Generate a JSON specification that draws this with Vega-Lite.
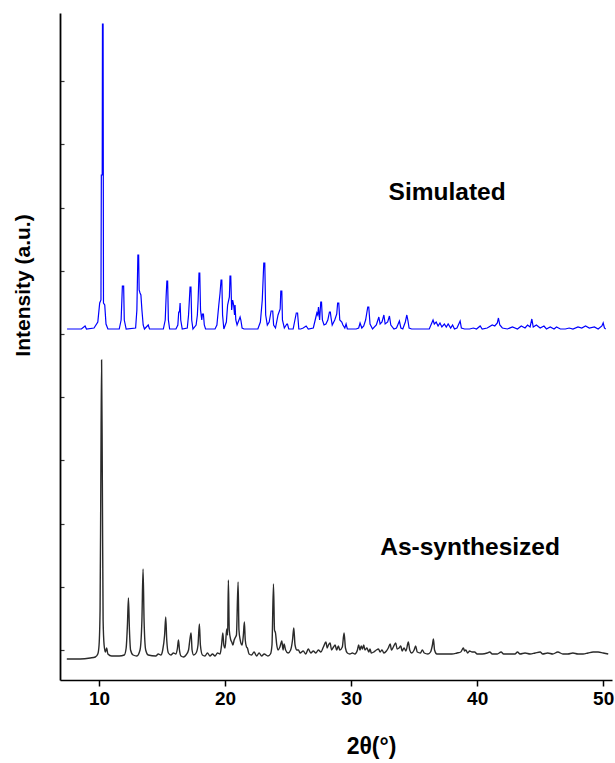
{
  "$schema": "https://vega.github.io/schema/vega-lite/v6.json",
  "autosize": {"type": "none"},
  "padding": {"left": 60, "top": 13, "right": 3, "bottom": 83},
  "width": 552,
  "height": 667,
  "background": "white",
  "config": {"view": {"stroke": null}, "font": "Liberation Sans"},
  "datasets": {
    "sim": [
      {"t":7.46,"i":351},{"t":8.6,"i":351},{"t":8.89,"i":354},{"t":9.0,"i":351},{"t":9.6,"i":352},{"t":9.9,"i":358},{"t":10.05,"i":377},{"t":10.15,"i":380},{"t":10.18,"i":505},{"t":10.25,"i":505},{"t":10.27,"i":656},{"t":10.32,"i":656},{"t":10.35,"i":377},{"t":10.45,"i":375},{"t":10.55,"i":356},{"t":10.7,"i":351},
      {"t":11.6,"i":351},{"t":11.75,"i":360},{"t":11.85,"i":394},{"t":11.95,"i":394},{"t":12.0,"i":360},{"t":12.15,"i":351},{"t":12.9,"i":352},{"t":13.0,"i":370},{"t":13.08,"i":425},{"t":13.14,"i":425},{"t":13.18,"i":390},{"t":13.25,"i":387},{"t":13.32,"i":385},{"t":13.4,"i":370},{"t":13.5,"i":355},{"t":13.6,"i":351},{"t":13.9,"i":355},{"t":14.0,"i":351},
      {"t":15.1,"i":351},{"t":15.25,"i":360},{"t":15.32,"i":383},{"t":15.38,"i":399},{"t":15.44,"i":399},{"t":15.5,"i":360},{"t":15.6,"i":351},{"t":16.1,"i":351},{"t":16.25,"i":355},{"t":16.32,"i":368},{"t":16.38,"i":368},{"t":16.43,"i":377},{"t":16.48,"i":360},{"t":16.6,"i":351},
      {"t":17.0,"i":352},{"t":17.1,"i":365},{"t":17.17,"i":381},{"t":17.22,"i":393},{"t":17.29,"i":393},{"t":17.35,"i":360},{"t":17.45,"i":351},{"t":17.7,"i":355},{"t":17.8,"i":365},{"t":17.86,"i":380},{"t":17.93,"i":407},{"t":17.99,"i":407},{"t":18.05,"i":370},{"t":18.15,"i":360},{"t":18.2,"i":366},{"t":18.28,"i":366},{"t":18.35,"i":355},{"t":18.45,"i":351},
      {"t":19.2,"i":351},{"t":19.35,"i":355},{"t":19.5,"i":375},{"t":19.6,"i":387},{"t":19.68,"i":400},{"t":19.74,"i":400},{"t":19.8,"i":365},{"t":19.9,"i":351},{"t":20.1,"i":358},{"t":20.2,"i":375},{"t":20.34,"i":383},{"t":20.39,"i":404},{"t":20.45,"i":404},{"t":20.52,"i":370},{"t":20.6,"i":380},{"t":20.68,"i":375},{"t":20.75,"i":365},{"t":20.79,"i":375},{"t":20.85,"i":360},{"t":20.95,"i":355},{"t":21.1,"i":360},{"t":21.19,"i":363},{"t":21.25,"i":360},{"t":21.35,"i":352},{"t":21.5,"i":351},
      {"t":22.6,"i":351},{"t":22.8,"i":358},{"t":22.95,"i":380},{"t":23.07,"i":417},{"t":23.15,"i":417},{"t":23.22,"i":365},{"t":23.35,"i":355},{"t":23.5,"i":358},{"t":23.65,"i":369},{"t":23.78,"i":369},{"t":23.85,"i":355},{"t":24.0,"i":352},{"t":24.2,"i":365},{"t":24.37,"i":371},{"t":24.42,"i":389},{"t":24.5,"i":389},{"t":24.55,"i":360},{"t":24.7,"i":352},{"t":24.9,"i":356},{"t":24.95,"i":356},{"t":25.05,"i":351},
      {"t":25.4,"i":351},{"t":25.65,"i":367},{"t":25.75,"i":367},{"t":25.85,"i":351},{"t":26.0,"i":351},{"t":26.2,"i":352},{"t":26.43,"i":354},{"t":26.6,"i":351},{"t":27.0,"i":352},{"t":27.15,"i":360},{"t":27.28,"i":367},{"t":27.35,"i":365},{"t":27.41,"i":373},{"t":27.5,"i":360},{"t":27.59,"i":378},{"t":27.65,"i":378},{"t":27.72,"i":360},{"t":27.85,"i":355},
      {"t":28.0,"i":356},{"t":28.15,"i":360},{"t":28.28,"i":368},{"t":28.35,"i":368},{"t":28.41,"i":362},{"t":28.5,"i":355},{"t":28.7,"i":360},{"t":28.86,"i":366},{"t":28.93,"i":377},{"t":29.02,"i":377},{"t":29.1,"i":360},{"t":29.26,"i":358},{"t":29.35,"i":355},{"t":29.5,"i":352},{"t":29.6,"i":356},{"t":29.7,"i":351},
      {"t":30.4,"i":351},{"t":30.6,"i":352},{"t":30.71,"i":357},{"t":30.85,"i":352},{"t":31.0,"i":354},{"t":31.15,"i":360},{"t":31.32,"i":373},{"t":31.4,"i":373},{"t":31.5,"i":356},{"t":31.7,"i":351},{"t":32.0,"i":355},{"t":32.2,"i":363},{"t":32.3,"i":356},{"t":32.45,"i":358},{"t":32.6,"i":365},{"t":32.7,"i":356},{"t":32.9,"i":358},{"t":33.04,"i":364},{"t":33.15,"i":355},{"t":33.4,"i":351},
      {"t":33.6,"i":352},{"t":33.83,"i":359},{"t":33.95,"i":352},{"t":34.1,"i":351},{"t":34.3,"i":358},{"t":34.42,"i":365},{"t":34.5,"i":360},{"t":34.6,"i":352},{"t":34.8,"i":351},{"t":35.2,"i":351},{"t":36.2,"i":351},{"t":36.5,"i":360},{"t":36.6,"i":356},{"t":36.75,"i":358},{"t":36.9,"i":354},{"t":37.05,"i":357},{"t":37.2,"i":353},{"t":37.4,"i":356},{"t":37.55,"i":353},{"t":37.7,"i":356},{"t":37.9,"i":352},{"t":38.05,"i":355},{"t":38.2,"i":351},
      {"t":38.4,"i":352},{"t":38.65,"i":359},{"t":38.75,"i":352},{"t":39.0,"i":351},{"t":39.4,"i":351},{"t":39.7,"i":352},{"t":39.95,"i":351},{"t":40.24,"i":354},{"t":40.4,"i":351},{"t":40.8,"i":352},{"t":41.2,"i":355},{"t":41.4,"i":354},{"t":41.6,"i":357},{"t":41.69,"i":362},{"t":41.8,"i":355},{"t":42.0,"i":352},{"t":42.4,"i":351},{"t":42.8,"i":353},{"t":43.2,"i":351},{"t":43.5,"i":354},{"t":43.8,"i":352},
      {"t":44.0,"i":355},{"t":44.2,"i":353},{"t":44.34,"i":361},{"t":44.45,"i":353},{"t":44.7,"i":355},{"t":45.0,"i":352},{"t":45.3,"i":354},{"t":45.5,"i":351},{"t":45.8,"i":353},{"t":46.1,"i":351},{"t":46.3,"i":353},{"t":46.6,"i":351},{"t":47.0,"i":351},{"t":47.3,"i":352},{"t":47.6,"i":351},{"t":48.0,"i":353},{"t":48.3,"i":352},{"t":48.6,"i":354},{"t":48.9,"i":352},{"t":49.3,"i":353},{"t":49.6,"i":351},{"t":49.9,"i":354},{"t":50.0,"i":357},{"t":50.1,"i":352},{"t":50.2,"i":351}
    ],
    "exp": [
      {"t":7.44,"i":21},{"t":8.5,"i":21},{"t":9.3,"i":22},{"t":9.7,"i":23},{"t":9.9,"i":26},{"t":10.0,"i":35},{"t":10.08,"i":70},{"t":10.14,"i":200},{"t":10.2,"i":320},{"t":10.26,"i":200},{"t":10.32,"i":60},{"t":10.4,"i":35},{"t":10.5,"i":28},{"t":10.6,"i":32},{"t":10.7,"i":26},{"t":11.0,"i":24},{"t":11.6,"i":24},{"t":12.0,"i":25},{"t":12.15,"i":32},{"t":12.25,"i":55},{"t":12.33,"i":82},{"t":12.41,"i":50},{"t":12.5,"i":30},{"t":12.7,"i":25},
      {"t":13.0,"i":24},{"t":13.25,"i":30},{"t":13.4,"i":60},{"t":13.49,"i":111},{"t":13.57,"i":60},{"t":13.7,"i":30},{"t":13.9,"i":25},{"t":14.5,"i":24},{"t":14.7,"i":26},{"t":14.9,"i":25},{"t":15.05,"i":30},{"t":15.2,"i":45},{"t":15.29,"i":63},{"t":15.37,"i":40},{"t":15.5,"i":27},{"t":15.7,"i":25},{"t":15.9,"i":27},{"t":16.1,"i":26},{"t":16.22,"i":32},{"t":16.3,"i":40},{"t":16.38,"i":30},{"t":16.5,"i":24},{"t":16.7,"i":23},{"t":16.9,"i":25},
      {"t":17.1,"i":30},{"t":17.2,"i":40},{"t":17.3,"i":47},{"t":17.38,"i":30},{"t":17.5,"i":25},{"t":17.7,"i":27},{"t":17.85,"i":35},{"t":17.96,"i":56},{"t":18.04,"i":35},{"t":18.2,"i":25},{"t":18.4,"i":24},{"t":18.6,"i":27},{"t":18.8,"i":24},{"t":19.0,"i":26},{"t":19.2,"i":24},{"t":19.4,"i":27},{"t":19.6,"i":26},{"t":19.72,"i":35},{"t":19.82,"i":47},{"t":19.9,"i":35},
      {"t":20.0,"i":32},{"t":20.13,"i":51},{"t":20.2,"i":45},{"t":20.26,"i":100},{"t":20.33,"i":50},{"t":20.45,"i":40},{"t":20.53,"i":38},{"t":20.62,"i":35},{"t":20.72,"i":40},{"t":20.79,"i":42},{"t":20.9,"i":45},{"t":21.03,"i":98},{"t":21.1,"i":50},{"t":21.2,"i":40},{"t":21.35,"i":35},{"t":21.45,"i":45},{"t":21.53,"i":58},{"t":21.6,"i":40},{"t":21.7,"i":33},{"t":21.77,"i":32},{"t":21.9,"i":26},
      {"t":22.1,"i":25},{"t":22.3,"i":28},{"t":22.5,"i":24},{"t":22.7,"i":27},{"t":22.9,"i":24},{"t":23.1,"i":26},{"t":23.4,"i":24},{"t":23.6,"i":26},{"t":23.72,"i":35},{"t":23.84,"i":96},{"t":23.92,"i":50},{"t":24.0,"i":47},{"t":24.1,"i":35},{"t":24.2,"i":30},{"t":24.35,"i":33},{"t":24.5,"i":39},{"t":24.6,"i":30},{"t":24.68,"i":36},{"t":24.8,"i":30},{"t":25.0,"i":27},{"t":25.2,"i":30},{"t":25.35,"i":40},{"t":25.45,"i":52},{"t":25.55,"i":35},{"t":25.7,"i":30},{"t":25.82,"i":30},{"t":25.95,"i":27},
      {"t":26.2,"i":29},{"t":26.4,"i":26},{"t":26.6,"i":31},{"t":26.8,"i":27},{"t":27.0,"i":29},{"t":27.2,"i":27},{"t":27.4,"i":30},{"t":27.6,"i":28},{"t":27.8,"i":33},{"t":28.0,"i":38},{"t":28.1,"i":32},{"t":28.2,"i":35},{"t":28.33,"i":37},{"t":28.45,"i":30},{"t":28.6,"i":33},{"t":28.73,"i":35},{"t":28.85,"i":30},{"t":28.99,"i":34},{"t":29.1,"i":30},{"t":29.3,"i":33},{"t":29.44,"i":47},{"t":29.55,"i":32},{"t":29.7,"i":27},{"t":29.9,"i":26},
      {"t":30.1,"i":27},{"t":30.3,"i":26},{"t":30.5,"i":30},{"t":30.6,"i":35},{"t":30.7,"i":30},{"t":30.8,"i":34},{"t":30.9,"i":31},{"t":31.0,"i":35},{"t":31.1,"i":30},{"t":31.25,"i":32},{"t":31.4,"i":28},{"t":31.5,"i":31},{"t":31.6,"i":27},{"t":31.8,"i":28},{"t":32.0,"i":30},{"t":32.17,"i":31},{"t":32.3,"i":28},{"t":32.45,"i":30},{"t":32.6,"i":27},{"t":32.8,"i":29},{"t":32.95,"i":32},{"t":33.1,"i":36},{"t":33.2,"i":30},{"t":33.35,"i":33},{"t":33.54,"i":37},{"t":33.65,"i":31},{"t":33.8,"i":32},{"t":33.94,"i":34},
      {"t":34.05,"i":29},{"t":34.2,"i":32},{"t":34.35,"i":29},{"t":34.54,"i":38},{"t":34.65,"i":30},{"t":34.8,"i":27},{"t":35.0,"i":30},{"t":35.12,"i":34},{"t":35.25,"i":28},{"t":35.5,"i":27},{"t":35.65,"i":30},{"t":35.8,"i":27},{"t":36.1,"i":26},{"t":36.3,"i":28},{"t":36.45,"i":35},{"t":36.53,"i":41},{"t":36.62,"i":30},{"t":36.8,"i":26},{"t":37.2,"i":26},{"t":37.6,"i":26},{"t":38.0,"i":26},{"t":38.4,"i":27},{"t":38.7,"i":28},{"t":38.91,"i":32},{"t":39.0,"i":29},{"t":39.1,"i":30},{"t":39.25,"i":27},{"t":39.4,"i":29},{"t":39.6,"i":28},{"t":39.8,"i":28},
      {"t":40.0,"i":26},{"t":40.4,"i":26},{"t":40.8,"i":27},{"t":41.0,"i":28},{"t":41.2,"i":26},{"t":41.6,"i":26},{"t":41.9,"i":28},{"t":42.1,"i":26},{"t":42.5,"i":26},{"t":43.0,"i":26},{"t":43.2,"i":28},{"t":43.4,"i":26},{"t":43.8,"i":27},{"t":44.2,"i":26},{"t":44.6,"i":27},{"t":45.0,"i":28},{"t":45.2,"i":26},{"t":45.6,"i":27},{"t":46.0,"i":26},{"t":46.4,"i":28},{"t":46.8,"i":26},{"t":47.2,"i":26},{"t":47.6,"i":27},{"t":48.0,"i":26},{"t":48.4,"i":26},{"t":48.8,"i":27},{"t":49.2,"i":28},{"t":49.6,"i":28},{"t":50.0,"i":27},{"t":50.4,"i":26}
    ],
    "labels": [
      {"t": 37.62, "i": 487, "label": "Simulated"},
      {"t": 39.44, "i": 132, "label": "As-synthesized"}
    ]
  },
  "layer": [
    {
      "data": {"name": "sim"},
      "mark": {"type": "line", "color": "#0000ff", "strokeWidth": 1.2, "interpolate": "linear"},
      "encoding": {
        "x": {"field": "t", "type": "quantitative", "scale": {"domain": [6.9, 50.7], "nice": false, "zero": false},
          "axis": {"values": [10, 20, 30, 40, 50], "title": "2θ(°)", "grid": false, "domainColor": "#000", "domainWidth": 1.6, "tickColor": "#000", "tickWidth": 1.5, "tickSize": 6,
            "labelFont": "Liberation Sans", "labelFontSize": 19, "labelFontWeight": "bold", "labelColor": "#000", "labelPadding": 3,
            "titleFont": "Liberation Sans", "titleFontSize": 23, "titleFontWeight": "bold", "titleColor": "#000", "titleX": 311, "titleY": 66, "titleBaseline": "middle"}},
        "y": {"field": "i", "type": "quantitative", "scale": {"domain": [0, 667], "nice": false},
          "axis": {"values": [30, 61.6, 93.2, 124.8, 156.4, 188, 219.6, 251.2, 282.8, 314.4, 346, 377.6, 409.2, 440.8, 472.4, 504, 535.6, 567.2, 598.8, 630.4], "labels": false, "grid": false, "domainColor": "#000", "domainWidth": 1.8, "tickColor": "#333", "tickWidth": 1.2, "tickSize": -4,
            "title": "Intensity (a.u.)", "titleFont": "Liberation Sans", "titleFontSize": 21, "titleFontWeight": "bold", "titleColor": "#000", "titleX": -37, "titleY": 272, "titleAngle": -90, "titleAlign": "center", "titleBaseline": "middle"}}
      }
    },
    {
      "data": {"name": "exp"},
      "mark": {"type": "line", "color": "#2a2a2a", "strokeWidth": 1.4, "interpolate": "monotone"},
      "encoding": {
        "x": {"field": "t", "type": "quantitative"},
        "y": {"field": "i", "type": "quantitative"}
      }
    },
    {
      "data": {"name": "labels"},
      "mark": {"type": "text", "font": "Liberation Sans", "fontSize": 24.5, "fontWeight": "bold", "color": "#000", "align": "center", "baseline": "middle"},
      "encoding": {
        "x": {"field": "t", "type": "quantitative"},
        "y": {"field": "i", "type": "quantitative"},
        "text": {"field": "label"}
      }
    }
  ]
}
